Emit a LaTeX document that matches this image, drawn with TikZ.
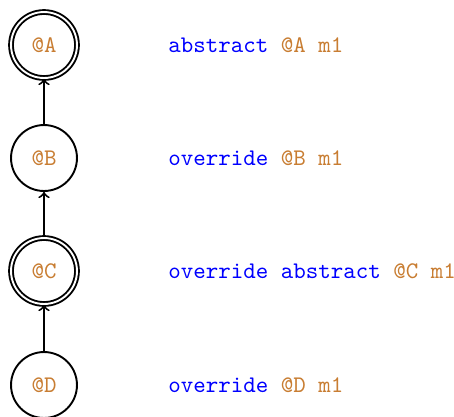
\documentclass[tikz,border=0pt]{standalone}
\definecolor{kwblue}{RGB}{0,0,255}
\definecolor{annbrown}{RGB}{200,125,50}
\begin{document}
\begin{tikzpicture}[x=0.42pt,y=-0.42pt,
  state/.style={circle,draw,line width=0.8pt,minimum size=27.7pt,inner sep=0pt,font=\ttfamily,text=annbrown},
  abst/.style={state,double,double distance=0.8pt},
  decl/.style={anchor=west,inner sep=0pt,font=\ttfamily},
  edge/.style={->,line width=0.8pt}]
\useasboundingbox (0,0) rectangle (454,416);
\node[abst]  (A) at (44,45)  {@A};
\node[state] (B) at (44,158) {@B};
\node[abst]  (C) at (44,271) {@C};
\node[state] (D) at (44,385) {@D};
\draw[edge] (B) -- (A);
\draw[edge] (C) -- (B);
\draw[edge] (D) -- (C);
\node[decl] (tA) at (168,45)  {\textcolor{kwblue}{abstract} \textcolor{annbrown}{@A m1}};
\node[decl] (tB) at (168,158) {\textcolor{kwblue}{override} \textcolor{annbrown}{@B m1}};
\node[decl] (tC) at (168,271) {\textcolor{kwblue}{override abstract} \textcolor{annbrown}{@C m1}};
\node[decl] (tD) at (168,385) {\textcolor{kwblue}{override} \textcolor{annbrown}{@D m1}};
\end{tikzpicture}
\end{document}
